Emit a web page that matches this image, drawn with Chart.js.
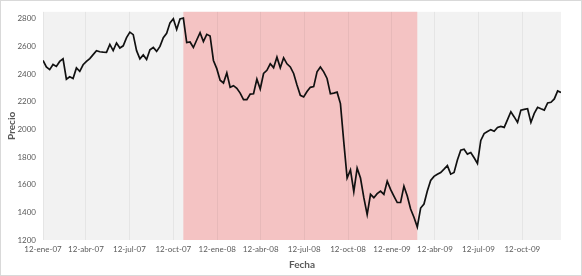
<!DOCTYPE html>
<html>
<head>
<meta charset="utf-8">
<script src="https://cdn.jsdelivr.net/npm/chart.js@4/dist/chart.umd.min.js"></script>
<style>
    html, body { margin: 0; padding: 0; background: #fff; }
    #wrap { width: 582px; height: 276px; }
</style>
</head>
<body>
<div id="wrap"><canvas id="priceChart" width="582" height="276"></canvas></div>
<script>
// weekly closing prices, one per week starting 12-ene-07
const prices = [
    2498, 2451, 2432, 2469, 2455, 2491, 2510, 2363, 2380, 2368,
    2444, 2420, 2467, 2491, 2512, 2540, 2569, 2561, 2558, 2557,
    2614, 2569, 2625, 2588, 2604, 2663, 2703, 2685, 2569, 2510,
    2538, 2505, 2576, 2592, 2564, 2600, 2663, 2694, 2770, 2800,
    2722, 2798, 2805, 2628, 2632, 2592, 2646, 2699, 2635, 2687,
    2675, 2498, 2439, 2355, 2335, 2408, 2304, 2316, 2297, 2262,
    2215, 2215, 2255, 2257, 2363, 2292, 2404, 2427, 2474, 2446,
    2522, 2446, 2517, 2474, 2451, 2404, 2321, 2246, 2234, 2274,
    2304, 2309, 2416, 2451, 2416, 2368, 2257, 2262, 2269, 2186,
    1910, 1648, 1707, 1549, 1719, 1648, 1506, 1384, 1530, 1506,
    1535, 1554, 1530, 1625, 1566, 1518, 1471, 1471, 1589, 1518,
    1424, 1365, 1294, 1431, 1460, 1554, 1630, 1660, 1675, 1688,
    1712, 1738, 1676, 1688, 1778, 1849, 1856, 1821, 1832, 1795,
    1754, 1920, 1970, 1984, 1998, 1986, 2014, 2021, 2014, 2070,
    2127, 2090, 2050, 2139, 2145, 2149, 2050, 2115, 2160, 2149,
    2139, 2191, 2196, 2220, 2278, 2267
];

const startDate = '2007-01-12';
const tickDates = ['2007-01-12', '2007-04-12', '2007-07-12', '2007-10-12', '2008-01-12', '2008-04-12',
    '2008-07-12', '2008-10-12', '2009-01-12', '2009-04-12', '2009-07-12', '2009-10-12'];
const tickLabels = ['12-ene-07', '12-abr-07', '12-jul-07', '12-oct-07', '12-ene-08', '12-abr-08',
    '12-jul-08', '12-oct-08', '12-ene-09', '12-abr-09', '12-jul-09', '12-oct-09'];
const yTicks = [1200, 1400, 1600, 1800, 2000, 2200, 2400, 2600, 2800];

// shaded crisis period, in weeks from start
const crisisStart = 42;
const crisisEnd = 112;

const weeksFromStart = (d) => (Date.parse(d) - Date.parse(startDate)) / (7 * 86400000);
const tickWeeks = tickDates.map(weeksFromStart);

const shadePlugin = {
    id: 'shade',
    beforeDraw(chart) {
        const { ctx, chartArea, scales } = chart;
        ctx.save();
        ctx.fillStyle = '#ffffff';
        ctx.fillRect(0, 0, chart.width, chart.height);
        ctx.fillStyle = '#F2F2F2';
        ctx.fillRect(chartArea.left, chartArea.top, chartArea.right - chartArea.left, chartArea.bottom - chartArea.top);
        const x1 = scales.x.getPixelForValue(crisisStart);
        const x2 = scales.x.getPixelForValue(crisisEnd);
        ctx.fillStyle = '#F4C3C3';
        ctx.fillRect(x1, chartArea.top, x2 - x1, chartArea.bottom - chartArea.top);
        ctx.restore();
    },
    afterDraw(chart) {
        const { ctx } = chart;
        ctx.save();
        ctx.strokeStyle = '#D9D9D9';
        ctx.lineWidth = 1;
        ctx.strokeRect(0.5, 0.5, chart.width - 1, chart.height - 1);
        ctx.restore();
    }
};

const ctx = document.getElementById('priceChart').getContext('2d');
new Chart(ctx, {
    type: 'line',
    data: {
        datasets: [{
            label: 'Precio',
            data: prices.map((v, i) => ({ x: i, y: v })),
            borderColor: '#111111',
            borderWidth: 1.7,
            pointRadius: 0,
            tension: 0,
            fill: false
        }]
    },
    options: {
        responsive: false,
        animation: false,
        layout: {
            padding: { left: 4, right: 21, top: 7, bottom: 0 }
        },
        plugins: {
            legend: { display: false },
            tooltip: { enabled: false }
        },
        scales: {
            x: {
                type: 'linear',
                min: 0,
                max: prices.length - 1,
                afterBuildTicks: (scale) => {
                    scale.ticks = tickWeeks.map(v => ({ value: v }));
                },
                afterFit: (scale) => { scale.height = 36; },
                ticks: {
                    autoSkip: false,
                    maxRotation: 0,
                    padding: 5,
                    color: '#595959',
                    font: { family: 'Lato', size: 8 },
                    callback: function (value, index) {
                        return tickLabels[index];
                    }
                },
                grid: {
                    color: 'rgba(0,0,0,0.05)',
                    drawTicks: false
                },
                border: { display: false },
                title: {
                    display: true,
                    text: 'Fecha',
                    color: '#595959',
                    font: { family: 'Lato', size: 10, weight: 'bold' },
                    padding: { top: 0, bottom: 5 }
                }
            },
            y: {
                min: 1200,
                max: 2850,
                afterBuildTicks: (scale) => {
                    scale.ticks = yTicks.map(v => ({ value: v }));
                },
                afterFit: (scale) => { scale.width = 39; },
                ticks: {
                    padding: 7,
                    color: '#595959',
                    font: { family: 'Lato', size: 8 },
                    callback: (value) => String(value)
                },
                grid: { display: false, drawTicks: false },
                border: { display: false },
                title: {
                    display: true,
                    text: 'Precio',
                    color: '#595959',
                    font: { family: 'Lato', size: 10, weight: 'bold' },
                    padding: { top: 2, bottom: 0 }
                }
            }
        }
    },
    plugins: [shadePlugin]
});
</script>
</body>
</html>
